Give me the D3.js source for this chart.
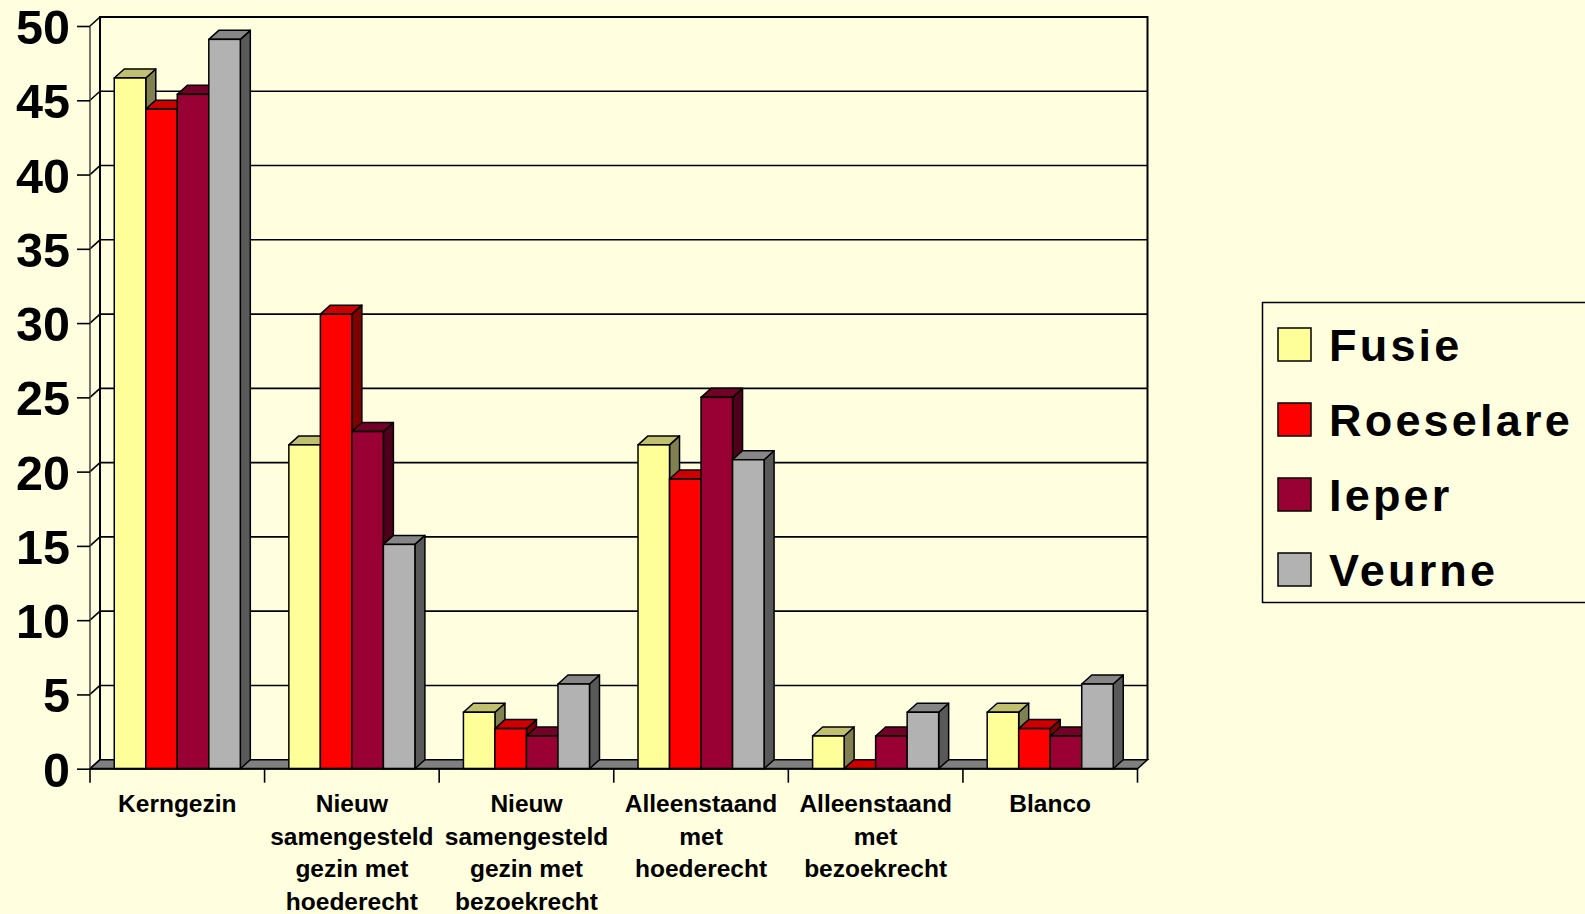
<!DOCTYPE html>
<html>
<head>
<meta charset="utf-8">
<script src="https://cdn.jsdelivr.net/npm/d3@7"></script>
<style>
  html, body { margin: 0; padding: 0; background: #FFFFE0; overflow: hidden; }
  svg { display: block; }
  text { font-family: "Liberation Sans", Arial, sans-serif; font-weight: bold; fill: #000; }
</style>
</head>
<body>
<svg id="chart" width="1585" height="914"></svg>
<script>
// ---- data ----
const categories = [
  ["Kerngezin"],
  ["Nieuw", "samengesteld", "gezin met", "hoederecht"],
  ["Nieuw", "samengesteld", "gezin met", "bezoekrecht"],
  ["Alleenstaand", "met", "hoederecht"],
  ["Alleenstaand", "met", "bezoekrecht"],
  ["Blanco"]
];
const seriesNames = ["Fusie", "Roeselare", "Ieper", "Veurne"];
const fusie     = [46.5, 21.8, 3.8, 21.8, 2.2, 3.8];
const roeselare = [44.4, 30.6, 2.7, 19.5, 0.0, 2.7];
const ieper     = [45.4, 22.7, 2.2, 25.0, 2.2, 2.2];
const veurne    = [49.1, 15.1, 5.7, 20.8, 3.8, 5.7];
const yTicks = [0, 5, 10, 15, 20, 25, 30, 35, 40, 45, 50];

const seriesValues = [fusie, roeselare, ieper, veurne];
const faceColors = [
  { front: "#FFFF99", top: "#C0C070", side: "#808050" },
  { front: "#FF0000", top: "#CC0000", side: "#800000" },
  { front: "#990033", top: "#730026", side: "#4D001A" },
  { front: "#B2B2B2", top: "#868686", side: "#595959" }
];

// ---- geometry ----
const svg = d3.select("#chart");
const bg = "#FFFFE0";
const DX = 10, DY = -9;           // 3D depth offset
const x0 = 90, x1 = 1137.5;       // front axis extent
const catIds = d3.range(categories.length);

const y = d3.scaleLinear().domain([0, 50]).range([768.7, 26]);
const x = d3.scaleBand().domain(catIds).range([x0, x1]).padding(0);
const xs = d3.scaleBand().domain(seriesNames).range([0, x.bandwidth()])
  .paddingInner(0).paddingOuter(0.77);

svg.append("rect").attr("width", 1585).attr("height", 914).attr("fill", bg);

const g = svg.append("g");

// back wall gridlines + left wall diagonals
yTicks.forEach(t => {
  const yy = y(t);
  if (t > 0) {
    g.append("line").attr("x1", x0 + DX).attr("x2", x1 + DX)
      .attr("y1", yy + DY).attr("y2", yy + DY)
      .attr("stroke", "#000").attr("stroke-width", 1.6);
  }
  g.append("line").attr("x1", x0).attr("y1", yy)
    .attr("x2", x0 + DX).attr("y2", yy + DY)
    .attr("stroke", "#000").attr("stroke-width", 1.6);
});

// back wall outline
g.append("path")
  .attr("d", `M${x0 + DX},${y(0) + DY} L${x0 + DX},${y(50) + DY} L${x1 + DX},${y(50) + DY} L${x1 + DX},${y(0) + DY}`)
  .attr("fill", "none").attr("stroke", "#000").attr("stroke-width", 2);

// floor
g.append("path")
  .attr("d", `M${x0},${y(0)} L${x1},${y(0)} L${x1 + DX},${y(0) + DY} L${x0 + DX},${y(0) + DY} Z`)
  .attr("fill", "#808080").attr("stroke", "#000").attr("stroke-width", 1.5);

// front vertical axis line
g.append("line").attr("x1", x0).attr("x2", x0).attr("y1", y(50)).attr("y2", y(0))
  .attr("stroke", "#444").attr("stroke-width", 1.5);

// y axis ticks + labels
const yAxis = d3.axisLeft(y).tickValues(yTicks).tickSize(13).tickPadding(7).tickFormat(d3.format("d"));
const ya = svg.append("g").attr("transform", `translate(${x0},0)`).call(yAxis);
ya.select(".domain").remove();
ya.selectAll(".tick line").attr("stroke", "#000").attr("stroke-width", 1.6);
ya.selectAll(".tick text")
  .attr("font-family", "Liberation Sans, Arial, sans-serif")
  .attr("font-weight", "bold").attr("font-size", 48.5).attr("fill", "#000")
  .attr("dy", "0.36em");

// bars
const bars = svg.append("g");
catIds.forEach(ci => {
  seriesNames.forEach((s, si) => {
    const v = seriesValues[si][ci];
    const bx0 = x(ci) + xs(s);
    const bx1 = bx0 + xs.bandwidth();
    const yt = y(v), yb = y(0);
    const c = faceColors[si];
    const bg2 = bars.append("g");
    // side
    bg2.append("path")
      .attr("d", `M${bx1},${yt} L${bx1 + DX},${yt + DY} L${bx1 + DX},${yb + DY} L${bx1},${yb} Z`)
      .attr("fill", c.side).attr("stroke", "#000").attr("stroke-width", 1.5).attr("stroke-linejoin", "round");
    // top
    bg2.append("path")
      .attr("d", `M${bx0},${yt} L${bx1},${yt} L${bx1 + DX},${yt + DY} L${bx0 + DX},${yt + DY} Z`)
      .attr("fill", c.top).attr("stroke", "#000").attr("stroke-width", 1.5).attr("stroke-linejoin", "round");
    // front
    bg2.append("rect")
      .attr("x", bx0).attr("y", yt).attr("width", bx1 - bx0).attr("height", Math.max(0, yb - yt))
      .attr("fill", c.front).attr("stroke", "#000").attr("stroke-width", 1.5);
  });
});

// x axis line and ticks
const xa = svg.append("g");
xa.append("line").attr("x1", x0).attr("x2", x1).attr("y1", y(0)).attr("y2", y(0))
  .attr("stroke", "#000").attr("stroke-width", 2);
catIds.concat([categories.length]).forEach(ci => {
  const xx = ci < categories.length ? x(ci) : x1;
  xa.append("line").attr("x1", xx).attr("x2", xx).attr("y1", y(0)).attr("y2", y(0) + 14)
    .attr("stroke", "#000").attr("stroke-width", 1.6);
});

// category labels
catIds.forEach(ci => {
  const t = xa.append("text")
    .attr("text-anchor", "middle")
    .attr("font-size", 24.5);
  categories[ci].forEach((line, li) => {
    t.append("tspan").attr("x", x(ci) + x.bandwidth() / 2)
      .attr("y", 812 + li * 32.6).text(line);
  });
});

// legend
const lg = svg.append("g");
lg.append("rect").attr("x", 1262.5).attr("y", 302.5).attr("width", 400).attr("height", 300)
  .attr("fill", bg).attr("stroke", "#000").attr("stroke-width", 1.5);
seriesNames.forEach((s, si) => {
  const sy = 328 + si * 75;
  lg.append("rect").attr("x", 1278).attr("y", sy).attr("width", 33).attr("height", 33)
    .attr("fill", faceColors[si].front).attr("stroke", "#000").attr("stroke-width", 1.5);
  lg.append("text").attr("x", 1329).attr("y", sy + 33)
    .attr("font-size", 45).attr("letter-spacing", "3.2px").text(s);
});
</script>
</body>
</html>
